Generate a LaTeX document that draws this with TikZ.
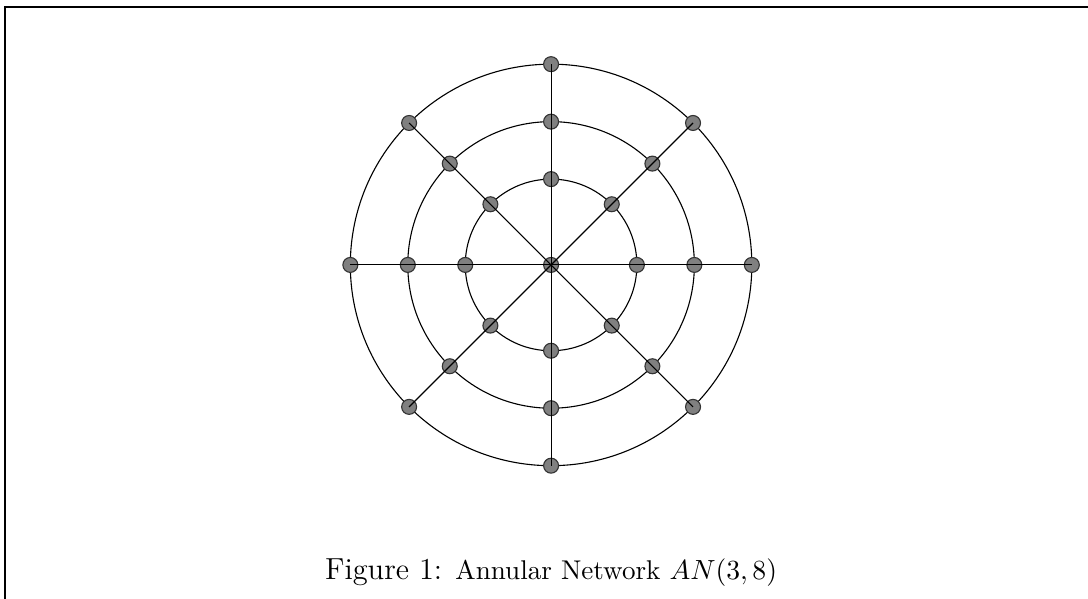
\documentclass[tikz,border=0pt]{standalone}
\usetikzlibrary{positioning}

\begin{document}
\begin{tikzpicture}[
    vertex/.style={draw=black!80, fill=black!50, circle, inner sep=0pt, minimum size=0.19cm, thin},
    ring/.style={draw, thin},
    spoke/.style={draw, thin}
]
\useasboundingbox (-7.00,-4.24) rectangle (6.82,3.365);
% Frame
\draw[line width=0.8pt] (-6.94,-4.30) -- (-6.94,3.28) -- (6.90,3.28);

% Rings
\node[vertex] (c) at (0,0) {};
\foreach \r in {1.09,1.82,2.55}
    \draw[ring] (c.center) circle[radius=\r];

% Vertices on the rings
\foreach \k/\r in {1/1.09,2/1.82,3/2.55}
    \foreach \j in {0,...,7}
        \node[vertex] (n-\k-\j) at ({\j*45}:\r) {};

% Spokes
\foreach \j in {0,...,7}
    \draw[spoke] (c.center) -- (n-3-\j.center);

% Caption
\node[anchor=base, font=\fontsize{11}{13}\selectfont] (cap) at (0,-4.00)
    {Figure 1: {\fontsize{9.8}{12}\selectfont Annular Network $AN(3,8)$}};
\end{tikzpicture}
\end{document}
